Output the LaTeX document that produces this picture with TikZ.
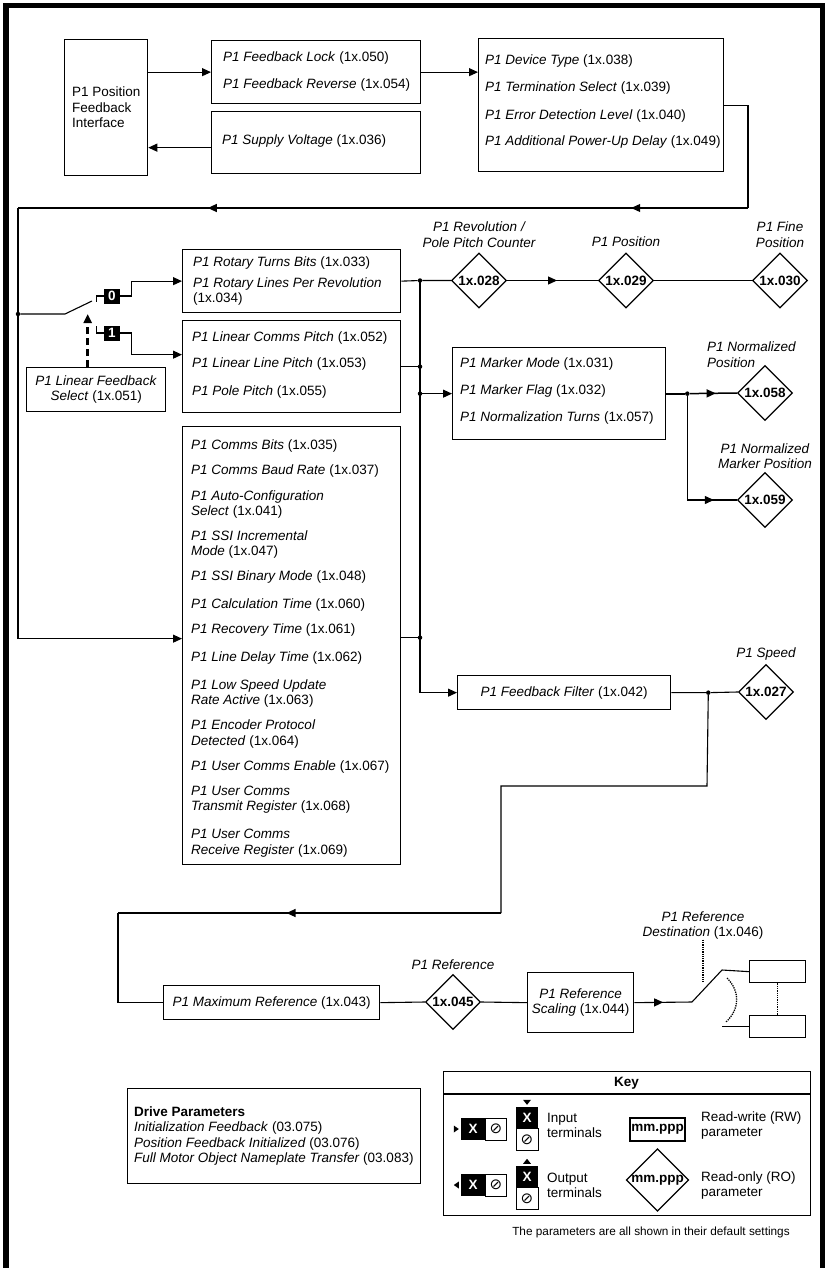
\documentclass[tikz,border=0pt]{standalone}
\usepackage{fontspec}
\setmainfont{Liberation Sans}
\newfontfamily\symfont{DejaVu Sans}
\usetikzlibrary{arrows.meta,shapes.geometric,decorations.markings}

\newcommand{\fsz}{\fontsize{13.5}{15.5}\selectfont}
\newcommand{\fbp}[2]{\textit{#1} (1x.#2)}
\newcommand{\fbq}[3]{\textit{#1}\\\textit{#2} (1x.#3)}

\tikzstyle{pbox}=[draw,line width=1.3pt,inner sep=0pt,anchor=north west]
\tikzstyle{ptext}=[anchor=west,inner sep=0pt,align=left,font=\fsz]
\tikzstyle{plabel}=[inner sep=0pt,align=center,font=\fsz\itshape]
\tikzstyle{ro}=[draw,diamond,line width=1.3pt,minimum width=55pt,minimum height=55pt,inner sep=0pt,font=\fsz\bfseries]
\tikzstyle{wire}=[draw,line width=1.1pt]
\tikzstyle{arr}=[-{Triangle[length=9pt,width=8pt]}]
\tikzstyle{junc}=[circle,fill,inner sep=0pt,minimum size=4.5pt]
\tikzstyle{term}=[fill=black,text=white,inner sep=0pt,font=\fsz\bfseries]
\tikzstyle{slot}=[draw,fill=white,inner sep=0pt,line width=0.6pt,font=\symfont\fontsize{15}{15}\selectfont]
\tikzset{marr/.style={postaction={decorate,decoration={markings,
  mark=at position #1 with {\arrow{Triangle[length=9pt,width=8pt]}}}}}}

\begin{document}
\begin{tikzpicture}[x=1pt,y=-1pt]
    \useasboundingbox (0,0) rectangle (825,1268);
    % page frame
    \draw[line width=5.5pt] (5.8,1268) -- (5.8,5.5) -- (822.5,5.5) -- (822.5,1268);

    % top row of boxes
    \node[pbox,minimum width=83pt,minimum height=136pt,align=left,font=\fsz] (pfi) at (64,39) {P1 Position\\Feedback\\Interface};
    \node[pbox,minimum width=209pt,minimum height=63pt] (fl) at (211,40) {};
    \node[pbox,minimum width=209pt,minimum height=62pt] (sv) at (211,111) {};
    \node[pbox,minimum width=245pt,minimum height=133pt] (dt) at (478,38) {};
    \foreach \y/\txt [count=\i] in {58/{\fbp{P1 Feedback Lock}{050}}, 85/{\fbp{P1 Feedback Reverse}{054}}}
        \node[ptext] (fl-\i) at (223,\y) {\txt};
    \node[ptext] (sv-1) at (222,141) {\fbp{P1 Supply Voltage}{036}};
    \foreach \y/\txt [count=\i] in {61/{\fbp{P1 Device Type}{038}}, 88/{\fbp{P1 Termination Select}{039}},
        116/{\fbp{P1 Error Detection Level}{040}}, 142/{\fbp{P1 Additional Power-Up Delay}{049}}}
        \node[ptext] (dt-\i) at (485,\y) {\txt};

    % feedback set-up boxes
    \node[pbox,minimum width=218pt,minimum height=63pt] (rot) at (182,249) {};
    \node[pbox,minimum width=218pt,minimum height=92pt] (lin) at (182,320) {};
    \node[pbox,minimum width=218pt,minimum height=438pt] (com) at (182,426) {};
    \node[pbox,minimum width=139pt,minimum height=44pt,align=center,font=\fsz] (lfs) at (26,367) {\fbq{P1 Linear Feedback}{Select}{051}};
    \foreach \y/\txt [count=\i] in {263/{\fbp{P1 Rotary Turns Bits}{033}}, 291.5/{\textit{P1 Rotary Lines Per Revolution}\\(1x.034)}}
        \node[ptext] (rot-\i) at (193,\y) {\txt};
    \foreach \y/\txt [count=\i] in {338/{\fbp{P1 Linear Comms Pitch}{052}}, 364/{\fbp{P1 Linear Line Pitch}{053}},
        392/{\fbp{P1 Pole Pitch}{055}}}
        \node[ptext] (lin-\i) at (192,\y) {\txt};
    \foreach \y/\txt [count=\i] in {446/{\fbp{P1 Comms Bits}{035}}, 471/{\fbp{P1 Comms Baud Rate}{037}},
        504.5/{\fbq{P1 Auto-Configuration}{Select}{041}}, 544.5/{\fbq{P1 SSI Incremental}{Mode}{047}},
        577/{\fbp{P1 SSI Binary Mode}{048}}, 605/{\fbp{P1 Calculation Time}{060}},
        630/{\fbp{P1 Recovery Time}{061}}, 658/{\fbp{P1 Line Delay Time}{062}},
        693.5/{\fbq{P1 Low Speed Update}{Rate Active}{063}}, 734/{\fbq{P1 Encoder Protocol}{Detected}{064}},
        767/{\fbp{P1 User Comms Enable}{067}}, 799.5/{\fbq{P1 User Comms}{Transmit Register}{068}},
        843/{\fbq{P1 User Comms}{Receive Register}{069}}}
        \node[ptext] (com-\i) at (191,\y) {\txt};

    % switch terminals
    \node[term,minimum width=16pt,minimum height=15pt] (s0) at (112,296) {0};
    \node[term,minimum width=16pt,minimum height=15pt] (s1) at (112,333) {1};
    \node[junc] (j0) at (18,314) {};

    % position outputs
    \node[pbox,minimum width=213pt,minimum height=92pt] (mk) at (452,347) {};
    \foreach \y/\txt [count=\i] in {364/{\fbp{P1 Marker Mode}{031}}, 391/{\fbp{P1 Marker Flag}{032}},
        418/{\fbp{P1 Normalization Turns}{057}}}
        \node[ptext] (mk-\i) at (460,\y) {\txt};
    \node[pbox,minimum width=213pt,minimum height=34pt,font=\fsz] (ff) at (457,675) {\fbp{P1 Feedback Filter}{042}};
    \foreach \pos/\name/\val in {(479,280.5)/d028/028, (626,280.5)/d029/029, (780,280.5)/d030/030,
        (765,393)/d058/058, (765,500)/d059/059, (766,692)/d027/027, (453,1002)/d045/045}
        \node[ro] (\name) at \pos {1x.\val};
    \node[plabel] (l028) at (479,234.5) {P1 Revolution /\\Pole Pitch Counter};
    \node[plabel] (l029) at (626,242) {P1 Position};
    \node[plabel] (l030) at (780,234.5) {P1 Fine\\Position};
    \node[plabel,align=left,anchor=west] (l058) at (707,354.5) {P1 Normalized\\Position};
    \node[plabel] (l059) at (765,456) {P1 Normalized\\Marker Position};
    \node[plabel] (l027) at (766,654) {P1 Speed};

    % reference chain
    \node[pbox,minimum width=216pt,minimum height=34pt,font=\fsz] (mr) at (163,985) {\fbp{P1 Maximum Reference}{043}};
    \node[plabel] (l045) at (453,965) {P1 Reference};
    \node[pbox,minimum width=106pt,minimum height=60pt,align=center,font=\fsz] (rs) at (527,972) {\fbq{P1 Reference}{Scaling}{044}};
    \node[plabel,font=\fsz] (dest) at (703,925.5) {\fbq{P1 Reference}{Destination}{046}};
    \node[pbox,minimum width=56pt,minimum height=22pt] (tb) at (749,960) {};
    \node[pbox,minimum width=56pt,minimum height=22pt] (bb) at (749,1015) {};

    % connections, top
    \coordinate (sv-in) at ([yshift=-5pt]sv.west);
    \draw[wire,arr] (pfi.east |- fl.west) -- (fl.west);
    \draw[wire,arr] (sv-in) -- (sv-in -| pfi.east);
    \draw[wire,arr] (fl.east) -- (fl.east -| dt.west);
    \coordinate (c1) at (748,208);
    \coordinate (c2) at (18,208);
    \coordinate (com-in) at ([yshift=7pt]com.west);
    \draw[wire] (dt.east) -| (c1);
    \draw[wire,marr=0.16,marr=0.74] (c1) -- (c2);
    \draw[wire,arr] (c2) |- (com-in);

    % linear feedback select switch
    \draw[wire] (j0) -- ++(47,0) -- ++(27,-13);
    \draw[wire] (s0.west) -- ++(-7,0) -- ++(0,6);
    \draw[wire] (s1.west) -- ++(-7,0) -- ++(0,-7);
    \coordinate (lin-in) at ([yshift=12pt]lin.west);
    \draw[wire,arr] (s0.east) -- ++(11,0) |- (rot.west);
    \draw[wire,arr] (s1.east) -- ++(11,0) |- (lin-in);
    \draw[line width=2.4pt,dash pattern=on 7pt off 4pt,arr] ([xshift=-8.5pt]lfs.north) -- ++(0,-53);

    % bus
    \coordinate (b1) at (420,280.5);
    \coordinate (com-out) at ([yshift=8pt]com.east);
    \node[junc] (j1) at (b1) {};
    \node[junc] (j2) at (lin.east -| b1) {};
    \node[junc] (j3) at (mk.west -| b1) {};
    \node[junc] (j4) at (com-out -| b1) {};
    \draw[wire] (rot.east) -- (j1) -- (d028.west);
    \draw[wire,marr=0.55] (d028.east) -- (d029.west);
    \draw[wire] (d029.east) -- (d030.west);
    \draw[wire] (lin.east) -- (j2);
    \draw[wire] (com-out) -- (j4);
    \draw[wire,arr] (j3) -- (mk.west);
    \draw[wire,arr] (b1) |- (ff.west);

    % normalized outputs
    \node[junc] (j5) at ([xshift=21pt]mk.east) {};
    \draw[line width=2pt] (mk.east) -- (j5);
    \draw[wire,line width=1.5pt,marr=0.55] (j5) -- (d058.west);
    \draw[wire,marr=0.85] (j5) |- (d059.west);

    % speed and reference
    \node[junc] (j6) at ([xshift=37pt]ff.east) {};
    \draw[wire] (ff.east) -- (j6) -- (d027.west);
    \coordinate (r1) at (707,786);
    \coordinate (r2) at (501,786);
    \coordinate (r3) at (501,913);
    \coordinate (r4) at (118,913);
    \draw[wire] (j6) -- (r1) -- (r2) -- (r3);
    \draw[wire,marr=0.56] (r3) -- (r4);
    \draw[wire] (r4) |- (mr.west);
    \draw[wire] (mr.east) -- (d045.west);
    \draw[wire] (d045.east) -- (rs.west);
    \coordinate (sw2) at (692,1002);
    \draw[wire,marr=0.5] (rs.east) -- (sw2);
    \draw[wire] (sw2) -- ++(30,-32) -- (tb.west);
    \draw[wire] (bb.west) -- ++(-27,0);
    \draw[line width=1.3pt,densely dotted] (tb.south) -- (bb.north);
    \draw[line width=1.3pt,densely dotted] (dest.south) -- ++(0,43);
    \draw[line width=1.3pt,densely dotted] (727,978) .. controls (740,991) and (740,1009) .. (726,1022);

    % drive parameters
    \node[pbox,minimum width=293pt,minimum height=95pt] (dp) at (127,1088) {};
    \node[ptext,font=\fontsize{13.5}{15.3}\selectfont] (dp-1) at (134,1136) {\textbf{Drive Parameters}\\\textit{Initialization Feedback} (03.075)\\
        \textit{Position Feedback Initialized} (03.076)\\\textit{Full Motor Object Nameplate Transfer} (03.083)};

    % key
    \node[pbox,minimum width=367pt,minimum height=144pt] (key) at (443,1071) {};
    \node[inner sep=0pt,font=\fsz\bfseries] (key-t) at (626.5,1083) {Key};
    \draw[wire] ([yshift=-23pt]key.north west) -- ([yshift=-23pt]key.north east);
    \node[term,minimum width=24pt,minimum height=22pt] (kx1) at (473,1129) {X};
    \node[slot,minimum width=21pt,minimum height=22pt,anchor=west] (ko1) at (kx1.east) {⊘};
    \node[term,minimum width=22pt,minimum height=21pt] (kx2) at (527,1117.5) {X};
    \node[slot,minimum width=22pt,minimum height=22pt,anchor=north] (ko2) at (kx2.south) {⊘};
    \node[term,minimum width=24pt,minimum height=22pt] (kx3) at (473,1185) {X};
    \node[slot,minimum width=21pt,minimum height=22pt,anchor=west] (ko3) at (kx3.east) {⊘};
    \node[term,minimum width=22pt,minimum height=21pt] (kx4) at (527,1176.5) {X};
    \node[slot,minimum width=22pt,minimum height=22pt,anchor=north] (ko4) at (kx4.south) {⊘};
    \fill (kx1.west) ++(-2,0) -- ++(-5,-3.5) -- ++(0,7) -- cycle;
    \fill (kx3.west) ++(-7,0) -- ++(5,-3.5) -- ++(0,7) -- cycle;
    \fill (kx2.north) ++(0,-2) -- ++(-4,-5) -- ++(8,0) -- cycle;
    \fill (kx4.north) ++(0,-7) -- ++(-4,5) -- ++(8,0) -- cycle;
    \node[ptext] (k-in) at (547,1125.5) {Input\\terminals};
    \node[ptext] (k-out) at (547,1185.5) {Output\\terminals};
    \node[draw,line width=1.5pt,minimum width=55pt,minimum height=23pt,inner sep=0pt,font=\fsz\bfseries] (k-rw) at (657.5,1129.5) {mm.ppp};
    \node[ro,minimum width=60pt,minimum height=61pt] (k-ro) at (657.5,1180) {mm.ppp};
    \node[ptext] (k-rwt) at (701,1125.5) {Read-write (RW)\\parameter};
    \node[ptext] (k-rot) at (701,1185.5) {Read-only (RO)\\parameter};
    \node[inner sep=0pt,font=\fontsize{11.8}{14}\selectfont] (note) at (651,1232) {The parameters are all shown in their default settings};
\end{tikzpicture}
\end{document}
